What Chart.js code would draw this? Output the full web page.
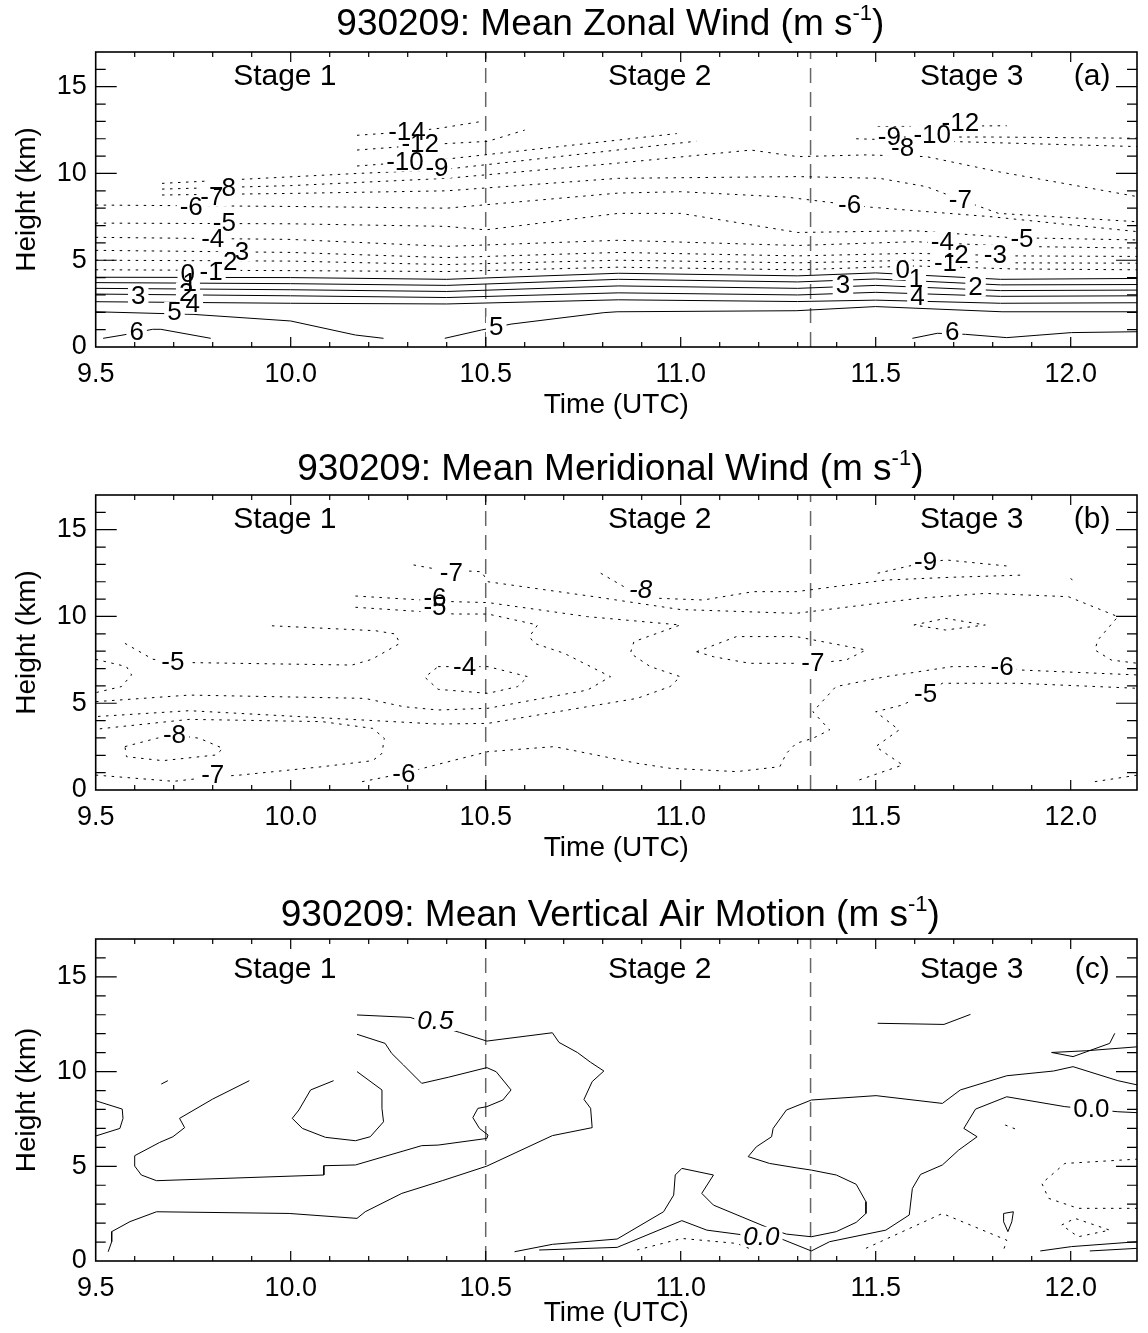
<!DOCTYPE html>
<html>
<head>
<meta charset="utf-8">
<script src="https://cdn.jsdelivr.net/npm/chart.js@4.4.0/dist/chart.umd.min.js"></script>
<style>
  body { margin: 0; background: #fff; }
  .panel { position: absolute; left: 0; width: 1148px; }
  canvas { display: block; }
</style>
</head>
<body>
<div class="panel" style="top:0"><canvas id="zonal" width="1148" height="440"></canvas></div>
<div class="panel" style="top:440px"><canvas id="merid" width="1148" height="445"></canvas></div>
<div class="panel" style="top:885px"><canvas id="vert" width="1148" height="448"></canvas></div>
<script>
const FONT = "'Liberation Sans', Arial, Helvetica, sans-serif";

// axes
const timeRange = [9.5, 12.17];
const heightRange = [0, 17];
const stageBounds = [10.5, 11.333];
const stageNames = ['Stage 1', 'Stage 2', 'Stage 3'];
const stageTimes = [9.985, 10.946, 11.746];
const tagTime = 12.055;

const titles = [
    ['930209: Mean Zonal Wind (m s', '-1', ')'],
    ['930209: Mean Meridional Wind (m s', '-1', ')'],
    ['930209: Mean Vertical Air Motion (m s', '-1', ')']
];

// (a) zonal wind, [time, height] along each contour
const zonalSolid = [
    [[9.5,4.02],[10.0,4.0],[10.4,3.9],[10.84,4.25],[11.3,4.1],[11.5,4.27],[11.82,3.9],[12.17,3.95]],
    [[9.5,3.71],[10.0,3.65],[10.4,3.55],[10.84,3.9],[11.3,3.75],[11.5,3.92],[11.82,3.58],[12.17,3.6]],
    [[9.5,3.38],[10.0,3.3],[10.4,3.2],[10.84,3.52],[11.3,3.38],[11.5,3.55],[11.82,3.25],[12.17,3.28]],
    [[9.5,3.05],[10.0,2.95],[10.4,2.85],[10.84,3.12],[11.3,3.0],[11.5,3.15],[11.82,2.92],[12.17,2.95]],
    [[9.5,2.61],[10.0,2.52],[10.4,2.48],[10.84,2.72],[11.3,2.62],[11.5,2.7],[11.82,2.52],[12.17,2.55]],
    [[9.5,2.03],[9.75,1.88],[10.0,1.5],[10.166,0.69],[10.238,0.5]],
    [[10.395,0.5],[10.489,0.98],[10.565,1.32],[10.803,1.98],[10.837,2.03],[11.296,2.09],[11.5,2.33],[11.824,2.03],[12.17,2.03]],
    [[9.519,0.5],[9.57,0.69],[9.646,1.02],[9.667,1.02],[9.795,0.5]],
    [[11.594,0.5],[11.658,0.79],[11.73,0.73],[11.836,0.54],[12.002,0.83],[12.17,0.88]]
];
const zonalDotted = [
    [[9.5,4.45],[10.0,4.4],[10.4,4.35],[10.84,4.6],[11.3,4.45],[11.6,4.67],[11.85,4.5],[12.17,4.45]],
    [[9.5,5.0],[10.0,4.95],[10.4,4.75],[10.84,5.0],[11.3,4.85],[11.6,5.0],[11.85,4.85],[12.17,4.83]],
    [[9.5,5.57],[10.0,5.45],[10.4,5.15],[10.84,5.45],[11.3,5.25],[11.6,5.4],[11.85,5.25],[12.17,5.22]],
    [[9.5,6.32],[10.0,6.2],[10.4,5.8],[10.84,6.15],[11.3,5.85],[11.6,6.07],[11.85,5.8],[12.17,5.7]],
    [[9.5,7.14],[10.0,7.1],[10.4,6.95],[10.5,6.75],[10.84,7.7],[11.0,7.7],[11.3,6.6],[11.6,6.7],[11.85,6.3],[12.17,6.17]],
    [[9.5,8.18],[10.0,8.1],[10.4,8.0],[10.84,8.87],[11.0,8.95],[11.27,8.64],[11.48,8.07],[11.8,7.5],[12.17,6.65]],
    [[9.67,8.76],[10.0,8.85],[10.4,9.0],[10.84,9.72],[11.3,9.82],[11.51,9.72],[11.63,9.24],[11.72,8.47],[11.815,7.7],[12.17,7.22]],
    [[9.67,9.1],[10.0,9.3],[10.4,9.72],[10.84,10.6],[11.18,11.35],[11.3,10.97],[11.475,11.07],[11.63,10.97],[11.815,10.1],[12.17,8.67]],
    [[9.67,9.43],[10.17,10.0],[10.38,10.2],[11.04,11.86]],
    [[11.45,12.0],[11.6,11.9],[12.17,11.55]],
    [[10.17,10.43],[10.38,10.78],[10.99,12.3]],
    [[11.55,12.1],[11.8,12.1],[12.17,12.03]],
    [[10.17,11.35],[10.38,11.7],[10.505,11.85],[10.6,12.5]],
    [[11.505,12.7],[11.836,12.75]],
    [[10.17,12.2],[10.3,12.4],[10.38,12.6],[10.49,13.0]]
];
const zonalLabels = [
    ['-14',10.298,12.41],['-12',10.332,11.73],['-10',10.293,10.68],['-9',10.375,10.3],
    ['-8',9.83,9.2],['-7',9.798,8.66],['-6',9.745,8.08],['-5',9.83,7.16],['-4',9.80,6.26],
    ['-3',9.864,5.49],['-2',9.834,4.91],['-1',9.796,4.34],['0',9.736,4.24],['1',9.741,3.7],
    ['2',9.732,3.15],['3',9.609,2.93],['4',9.749,2.51],['5',9.702,2.03],['6',9.605,0.88],
    ['5',10.527,1.17],
    ['-12',11.717,12.89],['-10',11.645,12.21],['-9',11.535,12.12],['-8',11.569,11.45],
    ['-7',11.717,8.47],['-6',11.433,8.18],['-5',11.875,6.26],['-4',11.671,6.07],
    ['-3',11.807,5.3],['-2',11.709,5.3],['-1',11.679,4.86],['0',11.569,4.43],['1',11.603,3.95],
    ['2',11.756,3.47],['3',11.416,3.57],['4',11.607,2.9],['6',11.696,0.88]
];

// (b) meridional wind
const meridDotted = [
    [[9.575,8.45],[9.647,7.53],[9.749,7.34],[10.157,7.2],[10.208,7.53],[10.28,8.45],[10.268,8.99],[10.217,9.18],[9.945,9.47]],
    [[9.5,7.53],[9.579,7.11],[9.592,6.63],[9.566,5.96],[9.5,5.61]],
    [[10.166,10.53],[10.336,10.28],[10.42,10.14],[10.506,10.14],[10.633,9.51],[10.612,8.84],[10.625,8.45],[10.701,7.88],[10.82,6.53],[10.761,5.76],[10.506,4.71],[10.378,4.61],[10.29,4.8],[10.19,5.28],[9.74,5.47],[9.5,5.09]],
    [[10.166,11.18],[10.336,10.95],[10.42,10.85],[10.506,10.8],[10.761,9.99],[10.999,9.51],[10.88,8.55],[10.871,7.88],[10.922,7.11],[10.999,6.53],[10.973,5.96],[10.888,5.28],[10.506,3.84],[10.378,3.8],[9.74,4.57],[9.5,4.23]],
    [[10.378,7.11],[10.506,7.11],[10.608,6.53],[10.582,5.96],[10.506,5.57],[10.378,5.8],[10.344,6.5],[10.378,7.11]],
    [[9.5,0.86],[9.7,0.5],[9.8,0.75],[9.87,0.86],[10.08,1.34],[10.21,1.69],[10.234,2.11],[10.24,2.98],[10.21,3.55],[10.08,3.94],[9.74,4.07],[9.5,3.5]],
    [[9.575,2.5],[9.656,2.98],[9.702,3.17],[9.766,2.98],[9.826,2.4],[9.809,2.02],[9.672,1.69],[9.579,1.92],[9.575,2.5]],
    [[10.183,0.48],[10.29,0.96],[10.39,1.55],[10.506,2.21],[10.676,2.5],[10.888,1.54],[10.973,1.25],[11.143,1.06],[11.254,1.34],[11.271,2.11],[11.296,2.69],[11.339,2.98],[11.382,3.46],[11.339,4.51],[11.398,5.96],[11.526,6.53],[11.696,7.11],[11.824,7.11],[11.866,6.92],[12.172,6.63]],
    [[10.315,12.97],[10.38,12.7],[10.489,12.58],[10.506,12.0],[10.778,11.14],[10.999,10.4],[11.296,10.18],[11.611,11.05],[11.781,11.33],[11.994,11.14],[12.121,9.99],[12.07,8.65],[12.062,8.07],[12.104,7.49],[12.172,7.3]],
    [[10.795,12.49],[10.854,11.72],[10.94,11.05],[11.058,10.95],[11.186,11.43],[11.296,11.43],[11.526,12.1],[11.696,12.26],[11.883,12.39]],
    [[11.505,12.49],[11.598,12.97],[11.679,13.26],[11.836,12.91]],
    [[11.598,9.51],[11.679,9.89],[11.781,9.51],[11.679,9.22],[11.598,9.51]],
    [[11.041,7.97],[11.143,8.84],[11.296,8.84],[11.475,8.07],[11.424,7.49],[11.339,7.3],[11.177,7.3],[11.084,7.68],[11.041,7.97]],
    [[11.458,0.58],[11.569,1.44],[11.5,2.5],[11.56,3.46],[11.5,4.51],[11.569,4.9],[11.628,5.57],[11.671,6.15],[11.866,6.15],[12.172,5.86]],
    [[12.062,0.48],[12.172,0.86]],
    [[12.0,12.2],[12.01,11.95]]
];
const meridLabels = [
    ['-7',10.412,12.49],['-6',10.37,11.05],['-5',10.37,10.57],['-8',10.897,11.53,true],
    ['-5',9.698,7.4],['-4',10.446,7.11],['-8',9.702,3.17],['-7',9.80,0.86],['-6',10.29,0.96],
    ['-9',11.628,13.16],['-7',11.339,7.3],['-6',11.824,7.11],['-5',11.628,5.57]
];

// (c) vertical air motion
const vertSolid = [
    [[10.17,12.99],[10.306,12.86],[10.433,12.07],[10.503,11.61],[10.671,12.05],[10.688,11.54],[10.735,11.01],[10.769,10.49],[10.803,10.03],[10.773,9.47],[10.752,8.53],[10.769,8.06],[10.773,7.04],[10.671,6.62],[10.503,5.01],[10.39,4.25],[10.285,3.57],[10.191,2.6],[10.17,2.25],[9.996,2.51],[9.656,2.6],[9.588,2.08],[9.541,1.55],[9.541,1.02],[9.532,0.49]],
    [[10.17,11.97],[10.242,11.49],[10.259,10.96],[10.289,10.35],[10.336,9.38],[10.404,9.7],[10.503,10.21],[10.527,9.99],[10.565,9.03],[10.544,8.5],[10.503,8.15],[10.48,8.06],[10.467,7.57],[10.484,7.0],[10.506,6.65],[10.503,6.47],[10.378,6.12],[10.336,6.09],[10.166,5.07],[10.085,5.03],[10.085,4.54],[9.656,4.24],[9.617,4.54],[9.6,5.01],[9.6,5.56],[9.664,6.26],[9.698,6.56],[9.728,7.04],[9.715,7.53],[9.80,8.55],[9.894,9.52]],
    [[10.11,9.52],[10.051,9.03],[10.021,7.97],[10.004,7.53],[10.03,7.0],[10.089,6.53],[10.166,6.35],[10.204,6.56],[10.238,7.35],[10.234,8.06],[10.234,9.03],[10.17,10.0]],
    [[9.5,8.46],[9.568,8.02],[9.57,7.53],[9.562,7.0],[9.5,6.6]],
    [[9.668,9.34],[9.685,9.52]],
    [[12.172,9.29],[12.121,9.52],[12.006,10.26],[11.956,10.03],[11.836,9.78],[11.717,9.03],[11.671,8.32],[11.501,8.73],[11.335,8.5],[11.271,7.97],[11.237,7.0],[11.233,6.56],[11.194,6.03],[11.173,5.51],[11.228,5.15],[11.296,4.92],[11.335,4.8],[11.399,4.54],[11.45,4.05],[11.475,3.13],[11.475,2.51],[11.45,2.04],[11.399,1.55],[11.335,1.28],[11.271,1.42],[11.228,1.72],[11.084,2.95],[11.054,3.57],[11.084,4.54],[11.003,4.89],[10.986,4.54],[10.982,3.48],[10.956,2.6],[10.837,1.16],[10.671,0.88],[10.574,0.49]],
    [[10.637,0.58],[10.837,0.72],[11.003,2.13],[11.067,1.63],[11.17,1.35],[11.26,1.15],[11.335,0.53],[11.382,1.02],[11.526,1.63],[11.586,2.43],[11.594,3.83],[11.615,4.57],[11.671,5.07],[11.713,5.86],[11.76,6.56],[11.726,7.0],[11.756,8.02],[11.836,8.67],[11.985,8.15],[12.121,7.88],[12.172,7.83]],
    [[11.505,12.55],[11.675,12.49],[11.743,13.02]],
    [[12.172,11.31],[12.04,11.1],[11.951,11.01],[12.006,10.79],[12.1,11.49],[12.113,12.02]],
    [[11.922,0.53],[12.002,0.76],[12.172,1.02]],
    [[12.049,0.53],[12.172,0.67]],
    [[11.828,2.51],[11.853,2.6],[11.849,2.07],[11.839,1.55],[11.828,2.07],[11.828,2.51]]
];
const vertDotted = [
    [[12.172,5.38],[11.985,5.15],[11.926,4.10],[11.943,3.31],[12.019,2.78],[12.172,2.78]],
    [[11.977,1.9],[12.011,2.25],[12.1,1.63],[12.019,1.28],[11.977,1.9]],
    [[11.475,0.67],[11.671,2.51],[11.836,1.1],[11.828,0.58]],
    [[10.888,0.58],[11.003,1.19],[11.143,0.93],[11.186,0.58]],
    [[11.832,7.18],[11.858,6.97]]
];
const vertLabels = [
    ['0.5',10.371,12.67,true],['0.0',11.207,1.28,true],['0.0',12.053,8.06]
];

function lineSet(pts, dash) {
    return {
        data: pts.map(p => ({x: p[0], y: p[1]})),
        showLine: true,
        pointRadius: 0,
        borderColor: '#000',
        borderWidth: 1,
        borderDash: dash,
        tension: 0,
        fill: false
    };
}

function isMultiple(v, step) {
    return Math.abs(v / step - Math.round(v / step)) < 1e-6;
}

const annotate = {
    id: 'annotate',
    afterDatasetsDraw(chart, args, o) {
        const {ctx, chartArea: a} = chart;
        const x = chart.scales.x, y = chart.scales.y;
        ctx.save();
        ctx.textAlign = 'center';
        ctx.textBaseline = 'middle';

        // contour labels sit in gaps of the lines
        o.labels.forEach(([txt, t, h, it]) => {
            ctx.font = (it ? 'italic ' : '') + '26px ' + FONT;
            const w = ctx.measureText(txt).width;
            ctx.fillStyle = '#fff';
            ctx.fillRect(x.getPixelForValue(t) - w / 2 - 3, y.getPixelForValue(h) - 10, w + 6, 20);
        });
        ctx.fillStyle = '#000';
        o.labels.forEach(([txt, t, h, it]) => {
            ctx.font = (it ? 'italic ' : '') + '26px ' + FONT;
            ctx.fillText(txt, x.getPixelForValue(t), y.getPixelForValue(h) + 1);
        });

        ctx.font = '30px ' + FONT;
        stageNames.forEach((s, i) => {
            ctx.fillText(s, x.getPixelForValue(stageTimes[i]), y.getPixelForValue(o.stageHeight));
        });
        ctx.fillText(o.tag, x.getPixelForValue(tagTime), y.getPixelForValue(o.stageHeight));

        // frame with inward ticks
        ctx.strokeStyle = '#000';
        ctx.lineWidth = 1.6;
        ctx.strokeRect(a.left, a.top, a.right - a.left, a.bottom - a.top);
        ctx.lineWidth = 1.2;
        ctx.beginPath();
        x.ticks.forEach(tk => {
            const px = x.getPixelForValue(tk.value);
            if (px < a.left + 2 || px > a.right - 2) return;
            const len = isMultiple(tk.value, 0.5) ? 10 : 5;
            ctx.moveTo(px, a.bottom); ctx.lineTo(px, a.bottom - len);
            ctx.moveTo(px, a.top); ctx.lineTo(px, a.top + len);
        });
        y.ticks.forEach(tk => {
            const py = y.getPixelForValue(tk.value);
            if (py < a.top + 2 || py > a.bottom - 2) return;
            const len = isMultiple(tk.value, 5) ? 21 : 10;
            ctx.moveTo(a.left, py); ctx.lineTo(a.left + len, py);
            ctx.moveTo(a.right, py); ctx.lineTo(a.right - len, py);
        });
        ctx.stroke();

        // title with superscript
        const [main, sup, tail] = o.title;
        ctx.textAlign = 'left';
        ctx.textBaseline = 'alphabetic';
        ctx.font = '37px ' + FONT;
        const w1 = ctx.measureText(main).width, w3 = ctx.measureText(tail).width;
        ctx.font = '22px ' + FONT;
        const w2 = ctx.measureText(sup).width;
        const base = o.titleY + 13;
        let tx = (a.left + a.right) / 2 - 6 - (w1 + w2 + w3) / 2;
        ctx.font = '37px ' + FONT;
        ctx.fillText(main, tx, base);
        tx += w1;
        ctx.font = '22px ' + FONT;
        ctx.fillText(sup, tx, base - 15);
        tx += w2;
        ctx.font = '37px ' + FONT;
        ctx.fillText(tail, tx, base);
        ctx.restore();
    }
};

function makePanel(id, p) {
    const datasets = [];
    p.solid.forEach(l => datasets.push(lineSet(l, [])));
    p.dotted.forEach(l => datasets.push(lineSet(l, [2.5, 5.5])));
    stageBounds.forEach(t => datasets.push({
        data: heightRange.map(h => ({x: t, y: h})),
        showLine: true,
        pointRadius: 0,
        borderColor: '#666',
        borderWidth: 1.5,
        borderDash: [15, 9]
    }));

    new Chart(document.getElementById(id), {
        type: 'scatter',
        data: {datasets: datasets},
        options: {
            responsive: false,
            animation: false,
            events: [],
            layout: {padding: {top: p.top, bottom: p.padBottom, left: 10, right: 4.7}},
            plugins: {
                legend: {display: false},
                tooltip: {enabled: false},
                annotate: {labels: p.labels, title: p.title, tag: p.tag, stageHeight: p.stageHeight, titleY: p.titleY}
            },
            scales: {
                x: {
                    type: 'linear',
                    min: timeRange[0],
                    max: timeRange[1],
                    grid: {display: false, drawTicks: false},
                    border: {display: false},
                    ticks: {
                        stepSize: 0.1,
                        autoSkip: false,
                        maxRotation: 0,
                        padding: 11,
                        color: '#000',
                        font: {family: FONT, size: 27},
                        callback: v => isMultiple(v, 0.5) ? v.toFixed(1) : ''
                    },
                    title: {display: true, text: 'Time (UTC)', color: '#000', font: {family: FONT, size: 28}, padding: 0},
                    afterFit: s => { s.height = p.xAxisH; }
                },
                y: {
                    type: 'linear',
                    min: heightRange[0],
                    max: heightRange[1],
                    grid: {display: false, drawTicks: false},
                    border: {display: false},
                    ticks: {
                        stepSize: 1,
                        autoSkip: false,
                        padding: 9,
                        color: '#000',
                        font: {family: FONT, size: 27},
                        callback: v => isMultiple(v, 5) ? String(v) : ''
                    },
                    title: {display: true, text: 'Height (km)', color: '#000', font: {family: FONT, size: 28}, padding: 0},
                    afterFit: s => { s.width = 85.7; }
                }
            }
        },
        plugins: [annotate]
    });
}

makePanel('zonal', {
    solid: zonalSolid, dotted: zonalDotted, labels: zonalLabels,
    title: titles[0], tag: '(a)', stageHeight: 15.6,
    top: 52, padBottom: 18.2, xAxisH: 74.8, titleY: 22
});
makePanel('merid', {
    solid: [], dotted: meridDotted, labels: meridLabels,
    title: titles[1], tag: '(b)', stageHeight: 15.6,
    top: 55, padBottom: 20.2, xAxisH: 74.8, titleY: 27
});
makePanel('vert', {
    solid: vertSolid, dotted: vertDotted, labels: vertLabels,
    title: titles[2], tag: '(c)', stageHeight: 15.4,
    top: 54, padBottom: 3.2, xAxisH: 68.8, titleY: 28
});
</script>
</body>
</html>
